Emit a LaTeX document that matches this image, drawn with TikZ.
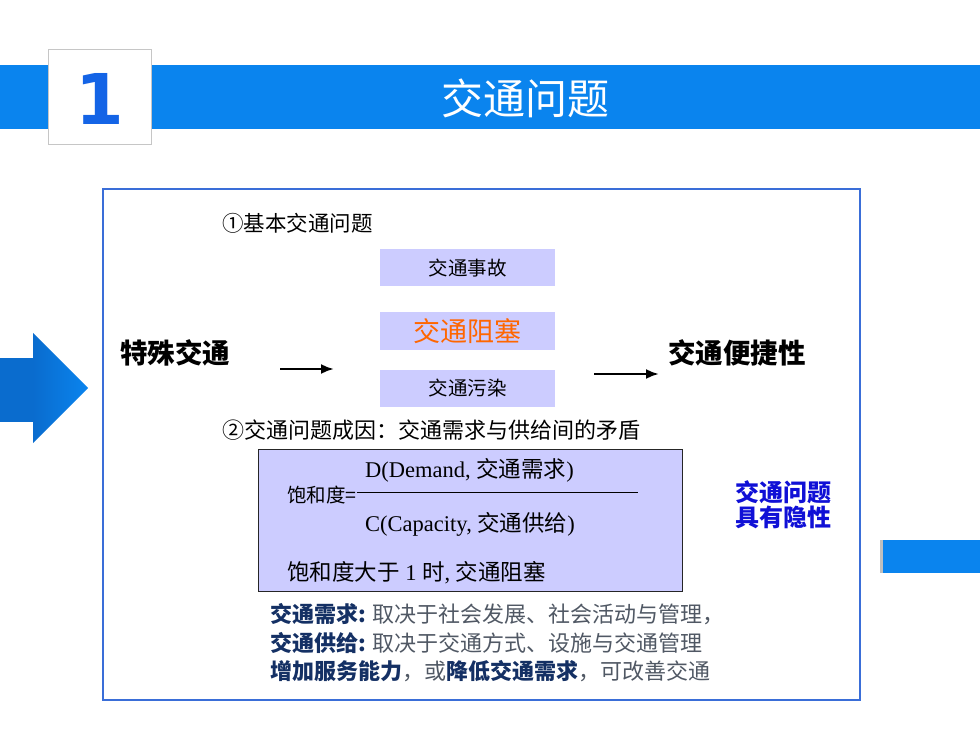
\documentclass[tikz,border=0pt]{standalone}
\usepackage{fontspec}
\usetikzlibrary{arrows.meta}
\setmainfont{Liberation Serif}
\newfontfamily\cjk{Noto Sans CJK SC}
\newfontfamily\numfont{DejaVu Sans}
\definecolor{bandblue}{RGB}{10,132,238}
\definecolor{arrowblue}{RGB}{10,108,206}
\definecolor{frameblue}{RGB}{58,110,216}
\definecolor{lavender}{RGB}{204,204,255}
\definecolor{jamorange}{RGB}{255,102,0}
\definecolor{hintblue}{RGB}{16,16,214}
\definecolor{navy}{RGB}{20,48,100}
\definecolor{textgray}{RGB}{80,88,100}
\definecolor{numblue}{RGB}{20,100,230}
\newcommand{\fs}[1]{\fontsize{#1}{#1}\selectfont}
\begin{document}
\begin{tikzpicture}[x=1pt,y=-1pt]
        \tikzstyle{problem}=[fill=lavender,minimum width=175pt,minimum height=37pt,inner sep=0pt]
        \tikzstyle{edge}=[draw, line width=2.4pt, -{Latex[length=13pt,width=10pt]}]
        \tikzstyle{bodytext}=[anchor=west,inner sep=0pt,font=\cjk\fs{22}]
        \useasboundingbox (0,0) rectangle (980,735);
        % title band
        \fill[bandblue] (0,65) rectangle (980,129);
        \node [draw=gray!45,fill=white,minimum width=103pt,minimum height=95pt,inner sep=0pt] (numbox) at (99.5,96.5) {};
        \node [text=numblue,font=\numfont\bfseries\fs{70}] (num) at (100,99) {1};
        \node [text=white,font=\cjk\fs{42}] (title) at (525,98) {交通问题};
        % side marks
        \fill[arrowblue] (0,358) rectangle (35,422);
        \shade[left color=arrowblue,right color=bandblue] (33,333) -- (88,388) -- (33,443) -- cycle;
        \fill[gray!50] (880,540) rectangle (883,573);
        \fill[bandblue] (883,540) rectangle (980,573);
        % frame
        \draw[frameblue,line width=1.5pt] (103,189) rectangle (860,700);
        \begin{scope}
                \node [bodytext,font=\cjk\fs{21.5}] (basic) at (222,223) {①基本交通问题};
                \node [problem,font=\cjk\fs{19.5}] (accident) at (467.5,268) {交通事故};
                \node [problem,font=\cjk\fs{27},text=jamorange] (jam) at (467.5,331) {交通阻塞};
                \node [problem,font=\cjk\fs{19.5}] (pollution) at (467.5,388) {交通污染};
                \node [font=\cjk\bfseries\fs{27.5},anchor=west,inner sep=0pt] (special) at (120,353) {特殊交通};
                \node [font=\cjk\bfseries\fs{27.5},anchor=west,inner sep=0pt] (convenience) at (668,353) {交通便捷性};
                \coordinate (in1) at (280,369);
                \coordinate (in2) at (334,369);
                \coordinate (out1) at (594,374);
                \coordinate (out2) at (659,374);
                \path[edge] (in1) -- (in2);
                \path[edge] (out1) -- (out2);
                \node [bodytext] (cause) at (222,430) {②交通问题成因：交通需求与供给间的矛盾};
        \end{scope}
        \begin{scope}
                \node [draw=gray!30!black,fill=lavender,minimum width=424pt,minimum height=142pt,inner sep=0pt] (ratiobox) at (470,520) {};
                \node [anchor=west,inner sep=0pt,font=\cjk\fs{19.5}] (ratio) at (287,495) {饱和度=};
                \coordinate (bar1) at (ratio.east);
                \coordinate (bar2) at (638,492);
                \draw[thin] (bar1 |- bar2) -- (bar2);
                \node [anchor=west,inner sep=0pt,font=\fs{22.5}] (demand) at (365,470) {D(Demand, {\cjk 交通需求})};
                \node [anchor=west,inner sep=0pt,font=\fs{22.5}] (capacity) at (365,524) {C(Capacity, {\cjk 交通供给})};
                \node [anchor=west,inner sep=0pt,font=\fs{22.5}] (rule) at (287,573) {{\cjk 饱和度大于} 1 {\cjk 时}, {\cjk 交通阻塞}};
                \node [font=\cjk\bfseries\fs{24},text=hintblue,align=center,inner sep=0pt] (hidden) at (783,505) {交通问题\\[1pt]具有隐性};
        \end{scope}
        \node [bodytext,text=textgray] (need) at (270,614) {{\bfseries\color{navy}交通需求:} 取决于社会发展、社会活动与管理，};
        \node [bodytext,text=textgray] (supply) at (270,643) {{\bfseries\color{navy}交通供给:} 取决于交通方式、设施与交通管理};
        \node [bodytext,text=textgray] (improve) at (270,671) {{\bfseries\color{navy}增加服务能力}，或{\bfseries\color{navy}降低交通需求}，可改善交通};
\end{tikzpicture}
\end{document}
